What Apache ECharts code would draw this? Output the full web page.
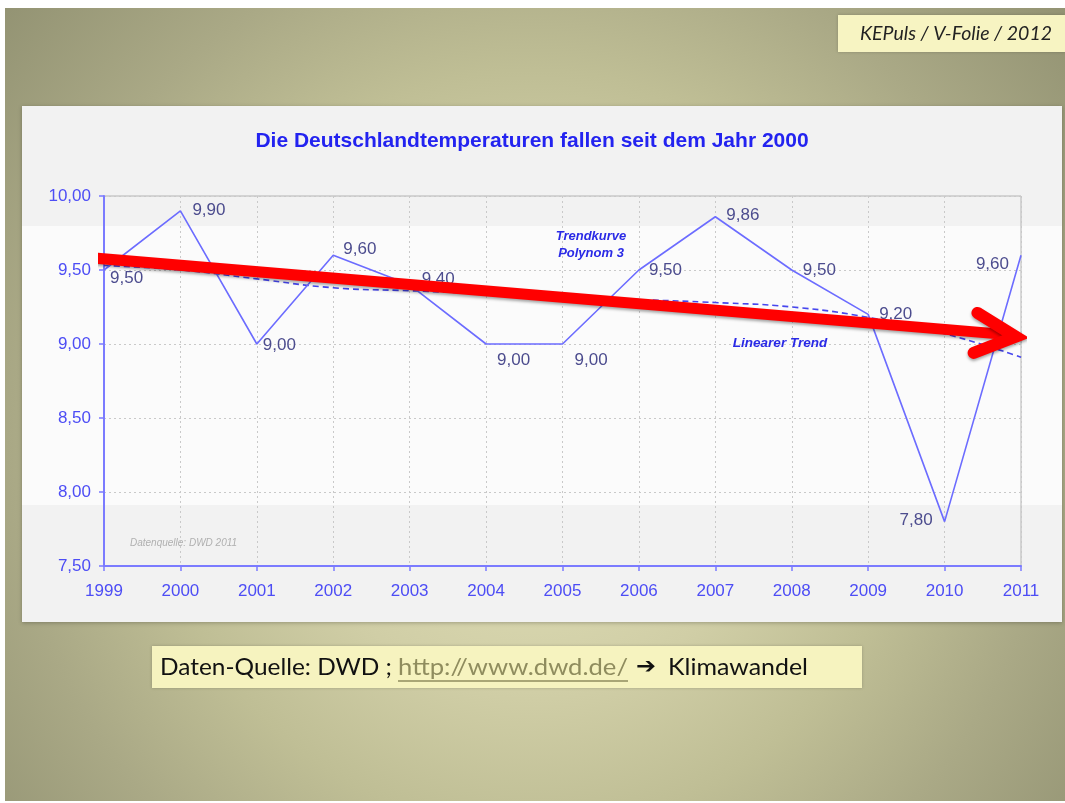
<!DOCTYPE html>
<html>
<head>
<meta charset="utf-8">
<script src="https://cdn.jsdelivr.net/npm/echarts@6/dist/echarts.min.js"></script>
<style>
html,body{margin:0;padding:0;background:#fff;}
#chart{width:1065px;height:803px;}
</style>
</head>
<body>
<div id="chart"></div>
<script>
// ---- data ----
const years = [1999, 2000, 2001, 2002, 2003, 2004, 2005, 2006, 2007, 2008, 2009, 2010, 2011];
const temps = [9.50, 9.90, 9.00, 9.60, 9.40, 9.00, 9.00, 9.50, 9.86, 9.50, 9.20, 7.80, 9.60];
const polyTrend = [9.53, 9.50, 9.44, 9.38, 9.36, 9.34, 9.32, 9.30, 9.28, 9.25, 9.18, 9.07, 8.91];
const arrowShaft = [[1998.89, 9.58], [2010.90, 9.06]];
const arrowHead = [[2010.43, 9.21], [2010.93, 9.05], [2010.38, 8.94]];
const titleText = 'Die Deutschlandtemperaturen fallen seit dem Jahr 2000';
const tagText = 'KEPuls / V-Folie / 2012';
const captionTexts = ['Daten-Quelle: DWD ;', 'http://www.dwd.de/', '➔', 'Klimawandel'];

// label placement per point: [position, offsetX, offsetY]
const labelPlace = [
  ['right', 2, 8], ['right', 8, 0], ['right', 2, 1], ['right', 6, -6], ['right', 8, -5],
  ['right', 7, 16], ['right', 8, 16], ['right', 6, 0], ['right', 7, -1], ['right', 7, 0],
  ['right', 7, 0], ['left', -8, -1], ['left', -8, 9]
];

const fmt = v => v.toFixed(2).replace('.', ',');

// text fitting helper (layout only)
const mctx = document.createElement('canvas').getContext('2d');
function fitScale(text, font, targetW) {
  mctx.font = font;
  const w = mctx.measureText(text).width;
  return w > 0 ? targetW / w : 1;
}

const capFont = '24px Lato, "Open Sans", sans-serif';
const arrowFont = 'bold 22px "DejaVu Sans", sans-serif';
// [x, targetWidth, color, font]
const capLayout = [
  [160, 232, '#111111', capFont],
  [398, 230, '#8f8c5e', capFont],
  [636, 20, '#111111', arrowFont],
  [668, 140, '#111111', capFont]
];
const capGraphics = captionTexts.map((t, i) => ({
  type: 'text', z: 10, x: capLayout[i][0], y: 667,
  scaleX: fitScale(t, capLayout[i][3], capLayout[i][1]),
  style: {text: t, fill: capLayout[i][2], font: capLayout[i][3], align: 'left', verticalAlign: 'middle'}
}));

const tagFont = 'italic 19px Lato, "Open Sans", sans-serif';

const chart = echarts.init(document.getElementById('chart'), null, {renderer: 'canvas'});

const mainData = years.map((y, i) => ({
  value: [y, temps[i]],
  label: {position: labelPlace[i][0], offset: [labelPlace[i][1], labelPlace[i][2]]}
}));

const option = {
  animation: false,
  backgroundColor: new echarts.graphic.RadialGradient(0.5, 0.56, 0.86, [
    {offset: 0, color: '#e4e2bb'},
    {offset: 0.35, color: '#d0cea6'},
    {offset: 0.55, color: '#bfbe95'},
    {offset: 0.75, color: '#aaa986'},
    {offset: 1, color: '#939373'}
  ]),
  grid: {
    left: 104, top: 196, right: 44, bottom: 237,
    show: true, borderColor: '#b4b4b4', borderWidth: 1,
    backgroundColor: 'transparent'
  },
  xAxis: {
    type: 'value', min: 1999, max: 2011, interval: 1,
    axisLine: {show: true, onZero: false, lineStyle: {color: '#7b7bff', width: 2}},
    axisTick: {show: true, length: 5, lineStyle: {color: '#7b7bff', width: 1.5}},
    axisLabel: {color: '#4d4df5', fontSize: 17, fontFamily: 'Liberation Sans, Arial', margin: 17,
      formatter: v => String(v)},
    splitLine: {show: true, lineStyle: {color: '#c9c9c9', type: [2, 3], width: 1}}
  },
  yAxis: {
    type: 'value', min: 7.5, max: 10, interval: 0.5,
    axisLine: {show: true, onZero: false, lineStyle: {color: '#7b7bff', width: 2}},
    axisTick: {show: true, length: 5, lineStyle: {color: '#7b7bff', width: 1.5}},
    axisLabel: {color: '#4d4df5', fontSize: 17, fontFamily: 'Liberation Sans, Arial', margin: 13,
      formatter: v => fmt(v)},
    splitLine: {show: true, lineStyle: {color: '#c9c9c9', type: [2, 3], width: 1}}
  },
  graphic: [
    // slide white edges
    {type: 'rect', z: -20, shape: {x: 0, y: 0, width: 1065, height: 8}, style: {fill: '#ffffff'}},
    {type: 'rect', z: -20, shape: {x: 0, y: 0, width: 5, height: 803}, style: {fill: '#ffffff'}},
    {type: 'rect', z: -20, shape: {x: 0, y: 801, width: 1065, height: 2}, style: {fill: '#ffffff'}},
    // chart box
    {type: 'rect', z: -15, shape: {x: 22, y: 106, width: 1040, height: 516},
      style: {fill: '#f2f2f2', shadowBlur: 4, shadowColor: 'rgba(0,0,0,0.25)', shadowOffsetY: 1}},
    {type: 'rect', z: -14, shape: {x: 22, y: 226, width: 1040, height: 279}, style: {fill: '#fbfbfb'}},
    // title
    {type: 'text', z: 10, x: 532, y: 141, style: {text: titleText, fill: '#2323f0',
      font: 'bold 21px "Liberation Sans", Arial', align: 'center', verticalAlign: 'middle'}},
    // annotations
    {type: 'text', z: 10, x: 591, y: 245, style: {text: 'Trendkurve\nPolynom 3', fill: '#2a2ae6',
      font: 'italic bold 13px "Liberation Sans", Arial', align: 'center', verticalAlign: 'middle', lineHeight: 17}},
    {type: 'text', z: 10, x: 780, y: 343, style: {text: 'Linearer Trend', fill: '#2a2ae6',
      font: 'italic bold 13.5px "Liberation Sans", Arial', align: 'center', verticalAlign: 'middle'}},
    {type: 'text', z: 10, x: 130, y: 543, style: {text: 'Datenquelle: DWD 2011', fill: '#b0b0b0',
      font: 'italic 10px "Liberation Sans", Arial', align: 'left', verticalAlign: 'middle'}},
    // top-right tag
    {type: 'rect', z: -12, shape: {x: 838, y: 15, width: 227, height: 37},
      style: {fill: '#f7f4c2', shadowBlur: 3, shadowColor: 'rgba(0,0,0,0.2)'}},
    {type: 'text', z: 10, x: 860, y: 34, scaleX: fitScale(tagText, tagFont, 192),
      style: {text: tagText, fill: '#222222', font: tagFont, align: 'left', verticalAlign: 'middle'}},
    // bottom source box
    {type: 'rect', z: -12, shape: {x: 152, y: 646, width: 710, height: 42},
      style: {fill: '#f6f3bf', shadowBlur: 3, shadowColor: 'rgba(0,0,0,0.2)'}},
    ...capGraphics,
    {type: 'line', z: 10, shape: {x1: 398, y1: 681, x2: 628, y2: 681}, style: {stroke: '#8f8c5e', lineWidth: 1.3}}
  ],
  series: [
    {
      name: 'Trendkurve Polynom 3', type: 'line', smooth: true, symbol: 'none', z: 3,
      data: years.map((y, i) => [y, polyTrend[i]]),
      lineStyle: {color: '#4646ee', width: 1.6, type: [6, 4]}
    },
    {
      name: 'Temperatur', type: 'line', z: 4,
      symbol: 'circle', symbolSize: 0, showSymbol: true,
      itemStyle: {color: 'rgba(0,0,0,0)'},
      data: mainData,
      lineStyle: {color: '#6c6cff', width: 1.6},
      label: {show: true, formatter: p => fmt(p.value[1]), color: '#4c4c8e', fontSize: 17,
        fontFamily: 'Liberation Sans, Arial', distance: 4}
    },
    {
      name: 'Linearer Trend', type: 'line', z: 6, clip: false, symbol: 'none',
      data: arrowShaft,
      lineStyle: {color: '#ff0000', width: 11, cap: 'butt',
        shadowBlur: 3, shadowColor: 'rgba(0,0,0,0.35)', shadowOffsetY: 2}
    },
    {
      name: 'Pfeil', type: 'line', z: 6, clip: false, symbol: 'none',
      data: arrowHead,
      lineStyle: {color: '#ff0000', width: 12, cap: 'round', join: 'miter',
        shadowBlur: 3, shadowColor: 'rgba(0,0,0,0.35)', shadowOffsetY: 2}
    }
  ]
};
chart.setOption(option);
</script>
</body>
</html>
